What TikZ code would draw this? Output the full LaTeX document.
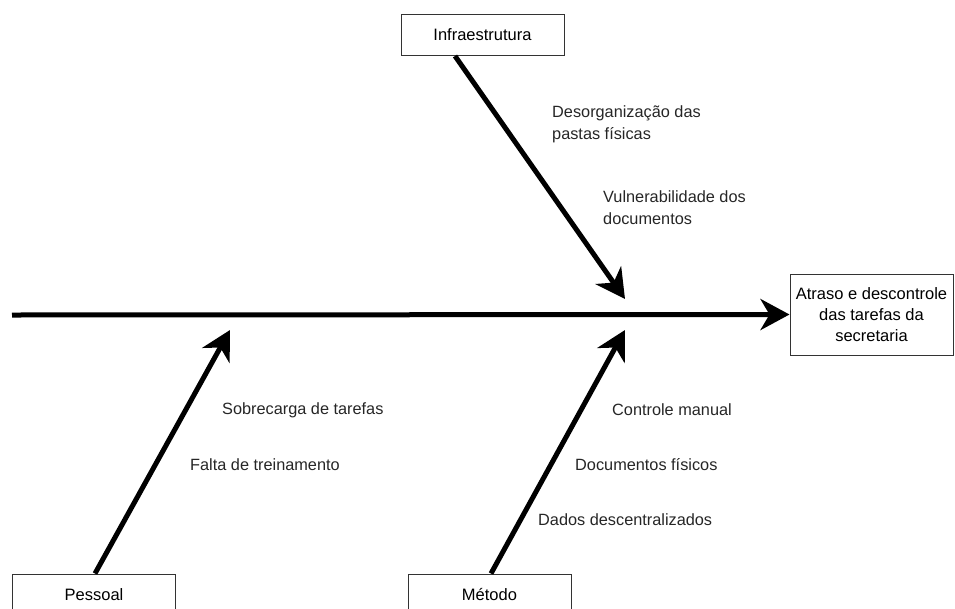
\documentclass[tikz,border=0pt]{standalone}
\usepackage{fontspec}
\setmainfont{Liberation Sans}
\usetikzlibrary{arrows.meta}
\begin{document}
\begin{tikzpicture}[x=1pt,y=-1pt,
  catbox/.style={draw=black!80, line width=1pt, fill=white, minimum width=163pt, minimum height=41pt, inner sep=0pt, font=\fontsize{16.5}{19}\selectfont},
  effectbox/.style={draw=black!80, line width=1pt, fill=white, minimum width=163pt, minimum height=81pt, inner sep=0pt, align=center, font=\fontsize{16.5}{21}\selectfont},
  cause/.style={anchor=west, align=left, inner sep=0pt, font=\fontsize{16.3}{22}\selectfont, text=black!85},
  bone/.style={line width=5pt, -{Stealth[length=29pt, width=31pt, inset=9pt]}}
]
\useasboundingbox (0,0) rectangle (955,608);

% category boxes and effect
\node[catbox] (infra) at (482.5,35) {Infraestrutura};
\node[catbox] (pessoal) at (94,594.5) {Pessoal};
\node[catbox] (metodo) at (489.5,594.5) {Método};
\node[effectbox] (effect) at (871.5,314.5) {Atraso e descontrole\\das tarefas da\\secretaria};

% spine
\coordinate (tail) at (12,315);
\draw[bone] (tail) -- (effect.west);

% bones
\coordinate (infratip) at (625,299);
\coordinate (metodotip) at (625,330);
\coordinate (pessoaltip) at (230,330);
\draw[bone] (infra.south -| 455,0) -- (infratip);
\draw[bone] (metodo.north -| 491,0) -- (metodotip);
\draw[bone] (pessoal.north -| 95,0) -- (pessoaltip);

% causes
\node[cause] (c1) at (552,124) {Desorganização das\\pastas físicas};
\node[cause] (c2) at (603,207.5) {Vulnerabilidade dos\\documentos};
\node[cause] (c3) at (222,410) {Sobrecarga de tarefas};
\node[cause] (c4) at (190,465) {Falta de treinamento};
\node[cause] (c5) at (612,410) {Controle manual};
\node[cause] (c6) at (575,465) {Documentos físicos};
\node[cause] (c7) at (538,520) {Dados descentralizados};
\end{tikzpicture}
\end{document}
